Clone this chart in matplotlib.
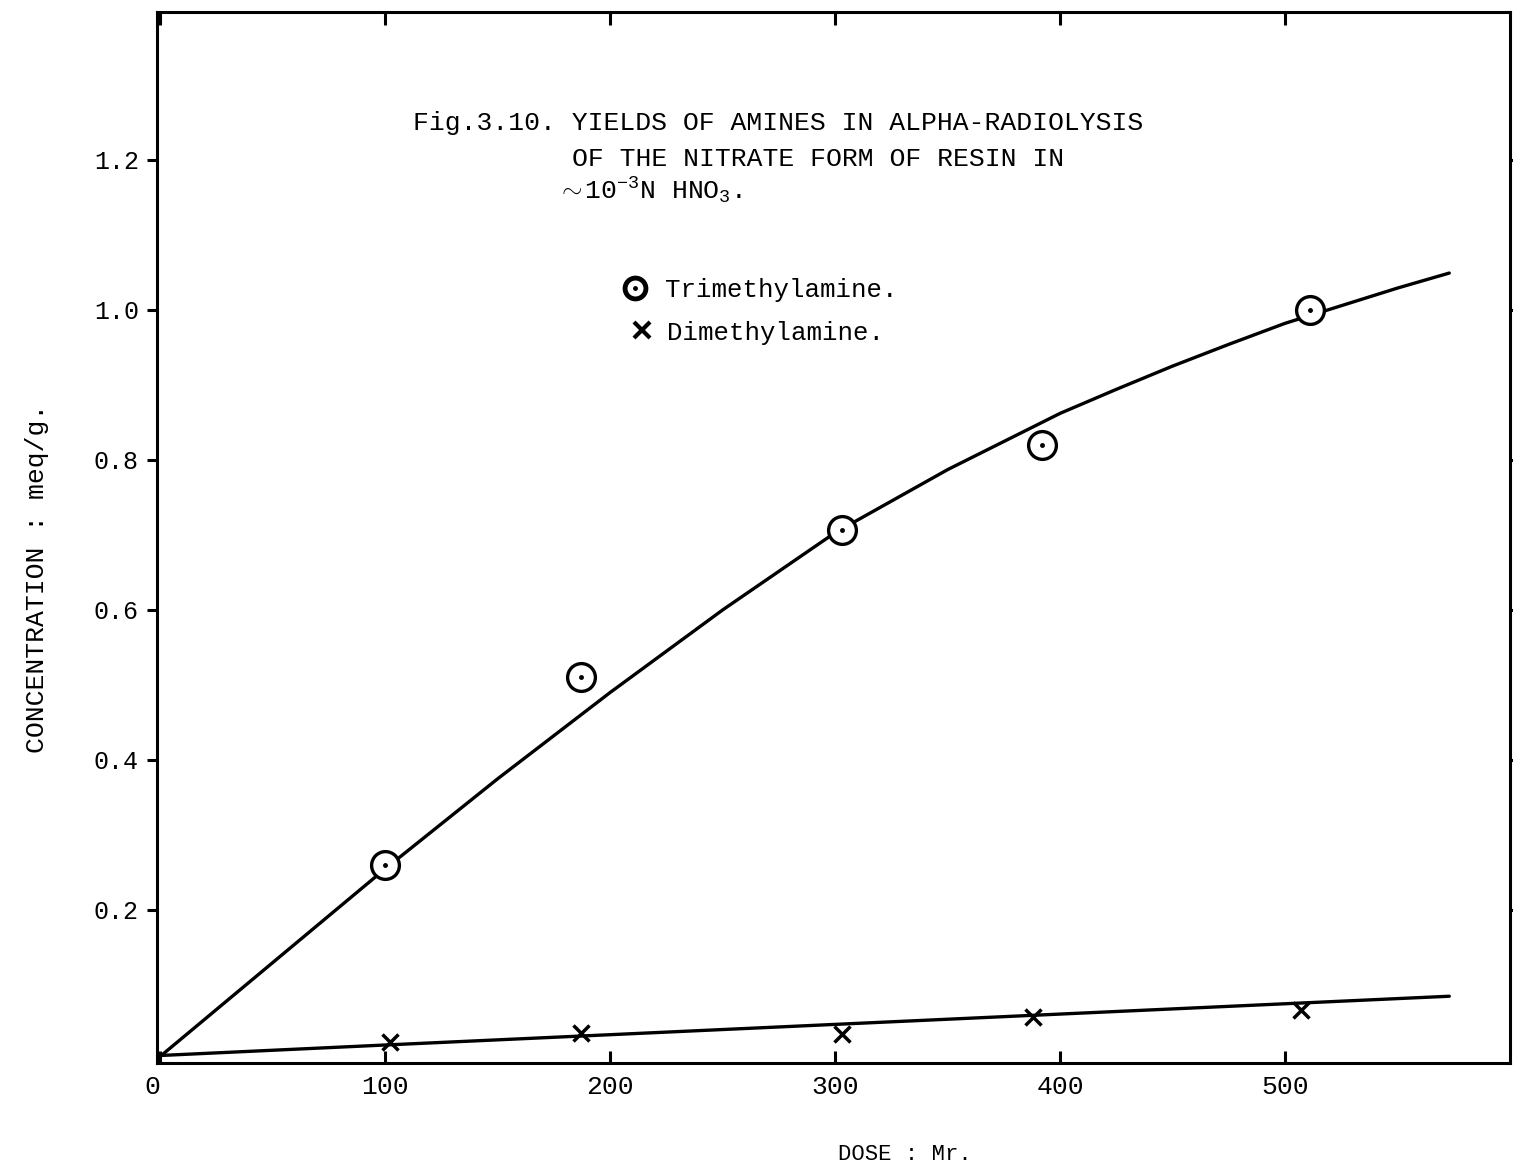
import matplotlib
matplotlib.use("Agg")
import matplotlib.pyplot as plt

plt.rcParams['font.family'] = ['Liberation Mono', 'DejaVu Sans Mono']
plt.rcParams['mathtext.fontset'] = 'custom'
plt.rcParams['mathtext.rm'] = 'Liberation Mono'
plt.rcParams['mathtext.it'] = 'Liberation Mono'

# Data
tri_dose = [100, 187, 303, 392, 511]
tri_conc = [0.26, 0.51, 0.707, 0.82, 1.0]
di_dose = [102, 187, 303, 388, 507]
di_conc = [0.024, 0.036, 0.035, 0.057, 0.067]

tri_curve_x = [0, 50, 100, 150, 200, 250, 300, 350, 400, 425, 450, 475, 500, 550, 573]
tri_curve_y = [0.005, 0.13, 0.255, 0.375, 0.49, 0.60, 0.703, 0.787, 0.862, 0.894, 0.925, 0.954, 0.982, 1.029, 1.049]
di_curve_x = [0, 100, 573]
di_curve_y = [0.006, 0.02, 0.085]

xticks = [0, 100, 200, 300, 400, 500]
xticklabels = ['0', '100', '200', '300', '400', '500']
yticks = [0.2, 0.4, 0.6, 0.8, 1.0, 1.2]
yticklabels = ['0.2', '0.4', '0.6', '0.8', '1.0', '1.2']

W, H = 1513, 1169
fig = plt.figure(figsize=(W / 100, H / 100), dpi=100)
ax = fig.add_axes([157 / W, 1 - 1063 / H, (1510 - 157) / W, (1063 - 12) / H])
ax.set_xlim(-1.5, 600)
ax.set_ylim(-0.004, 1.397)

ax.plot(tri_curve_x, tri_curve_y, color='black', lw=2.4, solid_capstyle='round',
        solid_joinstyle='round')
ax.plot(di_curve_x, di_curve_y, color='black', lw=2.4, solid_capstyle='round')

ax.plot(tri_dose, tri_conc, linestyle='none', marker='o', markersize=20,
        markerfacecolor='white', markeredgecolor='black', markeredgewidth=2.4, zorder=3)
ax.plot(tri_dose, tri_conc, linestyle='none', marker='.', markersize=5,
        color='black', zorder=4)
ax.plot(di_dose, di_conc, linestyle='none', marker='x', markersize=12,
        color='black', markeredgewidth=2.5, zorder=3)

for s in ax.spines.values():
    s.set_linewidth(2.2)

ax.set_xticks(xticks)
ax.set_xticklabels(xticklabels, fontsize=19)
ax.set_yticks(yticks)
ax.set_yticklabels(yticklabels, fontsize=18)
ax.tick_params(axis='x', direction='in', length=9, width=2.2, top=True, pad=9)
ax.tick_params(axis='y', direction='out', length=7, width=2.2, pad=6)
ax.tick_params(axis='y', which='both', right=True)
for t in ax.yaxis.get_major_ticks():
    t.tick2line.set_marker(matplotlib.lines.TICKRIGHT)
ax.get_xticklabels()[0].set_ha('right')

def ftxt(x, y, s, **kw):
    fig.text(x / W, 1 - y / H, s, **kw)

# Axis labels
ftxt(905, 1155, 'DOSE : Mr.', fontsize=16, ha='center', va='center')
ftxt(37, 578, 'CONCENTRATION : meq/g.', fontsize=19, ha='center', va='center', rotation=90)

# Title text
ftxt(413, 130, 'Fig.3.10. YIELDS OF AMINES IN ALPHA-RADIOLYSIS', fontsize=19, ha='left', va='baseline')
ftxt(572, 166, 'OF THE NITRATE FORM OF RESIN IN', fontsize=19, ha='left', va='baseline')
ftxt(558, 200, r'$\sim$10$^{-3}$N HNO$_3$.', fontsize=19, ha='left', va='baseline')

# Legend
fig.add_artist(matplotlib.lines.Line2D([635 / W], [1 - 288 / H], marker='o', markersize=15,
               markerfacecolor='white', markeredgecolor='black', markeredgewidth=3.5,
               transform=fig.transFigure))
fig.add_artist(matplotlib.lines.Line2D([635 / W], [1 - 288 / H], marker='.', markersize=5,
               color='black', transform=fig.transFigure))
fig.add_artist(matplotlib.lines.Line2D([642 / W], [1 - 330 / H], marker='x', markersize=12,
               color='black', markeredgewidth=3, transform=fig.transFigure))
ftxt(665, 297, 'Trimethylamine.', fontsize=18.5, ha='left', va='baseline')
ftxt(667, 340, 'Dimethylamine.', fontsize=18.5, ha='left', va='baseline')

fig.savefig('out.png', dpi=100, facecolor='white')
